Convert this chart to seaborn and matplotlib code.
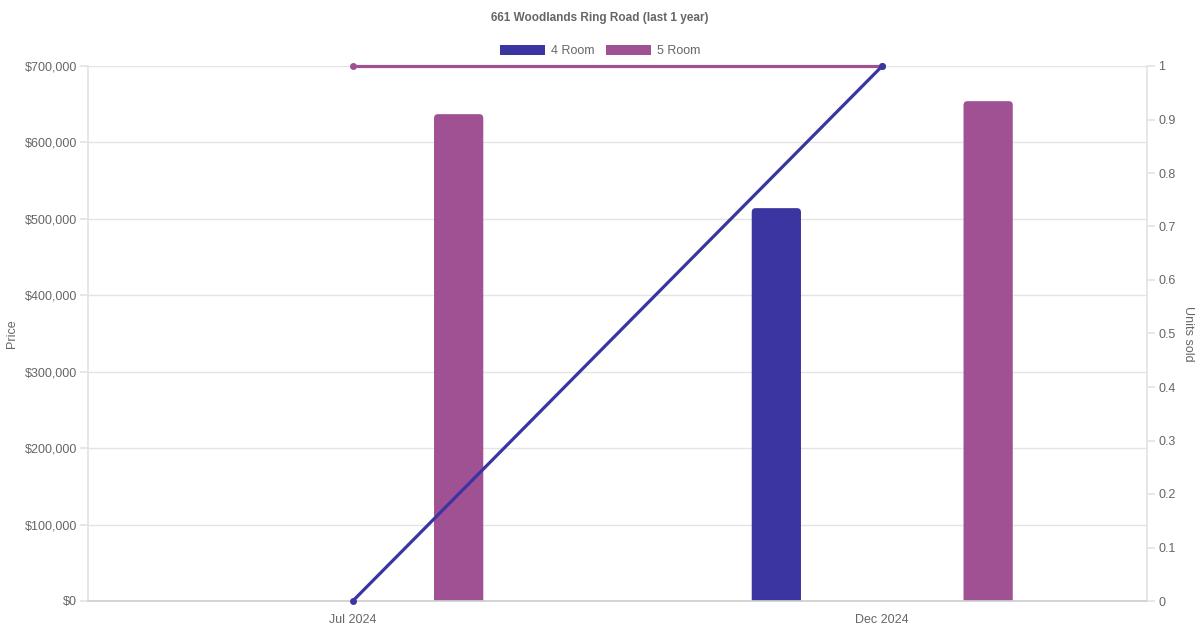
import matplotlib
matplotlib.use("Agg")
import matplotlib.pyplot as plt
import seaborn as sns
import pandas as pd
import numpy as np
from matplotlib.patches import Patch, FancyBboxPatch
from matplotlib.ticker import FuncFormatter, MultipleLocator

months = ["Jul 2024", "Dec 2024"]
room_types = ["4 Room", "5 Room"]
price_4room = [np.nan, 514000]
price_5room = [637000, 654000]
units_4room = [0, 1]
units_5room = [1, 1]

colors = {"4 Room": "#3a35a0", "5 Room": "#a05194"}
text_color = "#666666"
grid_color = "#e4e4e4"

sns.set_theme(style="white")
plt.rcParams["font.family"] = ["Liberation Sans", "DejaVu Sans"]

price_df = pd.DataFrame({
    "month": months * 2,
    "room": ["4 Room"] * 2 + ["5 Room"] * 2,
    "price": price_4room + price_5room,
})
# 5 Room line first so the 4 Room line sits on top, as in the original
units_df = pd.DataFrame({
    "x": [0, 1, 0, 1],
    "room": ["5 Room"] * 2 + ["4 Room"] * 2,
    "units": units_5room + units_4room,
})

fig = plt.figure(figsize=(12, 6.3), dpi=100)
ax = fig.add_axes([88 / 1200, 1 - 601 / 630, (1147 - 88) / 1200, (601 - 66) / 630])

sns.barplot(data=price_df, x="month", y="price", hue="room", order=months,
            hue_order=room_types, palette=colors, width=0.8, saturation=1,
            legend=False, ax=ax)

# thin bars with slightly rounded tops, like the original chart
bar_w = 0.093
r_x, r_y = 0.0075, 5200
for p in list(ax.patches):
    h = p.get_height()
    if not np.isfinite(h) or h <= 0:
        p.remove()
        continue
    cx = p.get_x() + p.get_width() / 2
    fc = p.get_facecolor()
    p.remove()
    fb = FancyBboxPatch((cx - bar_w / 2, -r_y * 2), bar_w, h + r_y * 2,
                        boxstyle=f"round,pad=0,rounding_size={r_x}",
                        mutation_aspect=r_y / r_x, facecolor=fc,
                        edgecolor="none", zorder=2)
    ax.add_patch(fb)

fs = 9
ax.set_xlim(-0.5, 1.5)
ax.set_ylim(0, 700000)
ax.yaxis.set_major_locator(MultipleLocator(100000))
ax.yaxis.set_major_formatter(FuncFormatter(lambda v, _: f"${v:,.0f}"))
ax.grid(axis="y", color=grid_color, linewidth=1)
ax.set_axisbelow(True)
ax.set_xlabel("")
ax.set_ylabel("Price", color=text_color, fontsize=fs)
ax.yaxis.set_label_coords((18 - 88) / 1059, 0.5)
ax.tick_params(axis="y", length=6, color=grid_color, labelsize=fs,
               labelcolor=text_color, pad=2)
ax.tick_params(axis="x", length=0, labelsize=fs, labelcolor=text_color, pad=9.5)
for side in ["left", "right", "top"]:
    ax.spines[side].set_color(grid_color)
ax.spines["top"].set_visible(False)
ax.spines["bottom"].set_color("#cfcfcf")

ax2 = ax.twinx()
sns.lineplot(data=units_df, x="x", y="units", hue="room",
             hue_order=["5 Room", "4 Room"], palette=colors, marker="o",
             markersize=5, markeredgewidth=0, linewidth=2.3, legend=False,
             ax=ax2, clip_on=False)
ax2.set_xlim(-0.5, 1.5)
ax2.set_ylim(0, 1)
ax2.yaxis.set_major_locator(MultipleLocator(0.1))
ax2.yaxis.set_major_formatter(FuncFormatter(lambda v, _: f"{v:g}"))
ax2.set_ylabel("Units sold", color=text_color, fontsize=fs, rotation=270)
ax2.yaxis.set_label_coords((1194 - 88) / 1059, 0.5)
ax2.tick_params(axis="y", length=6, color=grid_color, labelsize=fs,
                labelcolor=text_color, pad=2)
for side in ax2.spines:
    ax2.spines[side].set_visible(False)

fig.suptitle("661 Woodlands Ring Road (last 1 year)", y=1 - 12 / 630,
             fontsize=8.5, fontweight="bold", color=text_color)

handles = [Patch(facecolor=colors[r], edgecolor="none", label=r) for r in room_types]
fig.legend(handles=handles, loc="center", bbox_to_anchor=(0.5, 1 - 51 / 630),
           ncol=2, frameon=False, fontsize=fs, labelcolor=text_color,
           handlelength=3.6, handleheight=0.9, handletextpad=0.5,
           columnspacing=0.9)

fig.savefig("out.png", dpi=100)
